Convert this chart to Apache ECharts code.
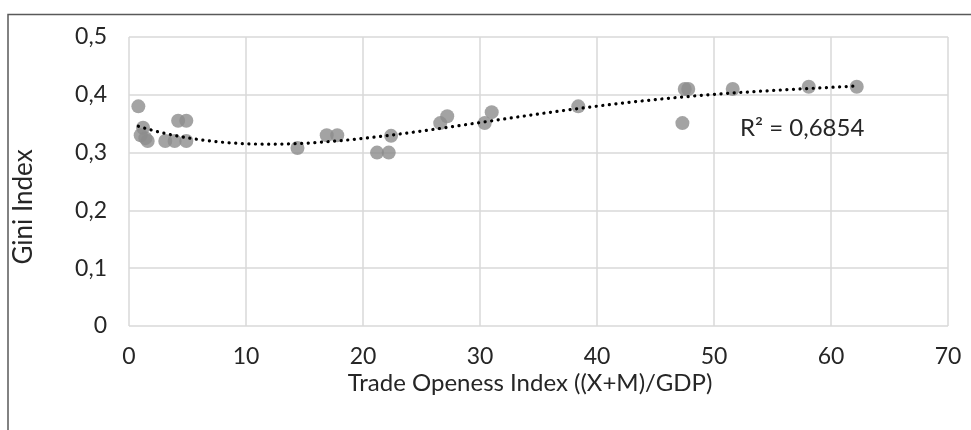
<!DOCTYPE html>
<html>
<head>
<meta charset="utf-8">
<script src="https://cdn.jsdelivr.net/npm/echarts@6/dist/echarts.min.js"></script>
<style>
  html, body { margin: 0; padding: 0; background: #fff; }
  #container { width: 971px; height: 430px; }
</style>
</head>
<body>
<div id="container"></div>
<script>
// trade openness (x) vs gini (y)
var tradeOpen = [0.8, 1.2, 1.0, 1.6, 1.4, 4.2, 4.9, 3.1, 3.9, 4.9, 14.4, 16.9, 17.8, 21.2, 22.2, 22.4, 26.6, 27.2, 30.4, 31.0, 38.4, 47.3, 47.5, 47.8, 51.6, 58.1, 62.2]
var gini = [0.38, 0.343, 0.33, 0.32, 0.325, 0.355, 0.355, 0.32, 0.32, 0.32, 0.308, 0.33, 0.33, 0.30, 0.30, 0.329, 0.351, 0.363, 0.351, 0.37, 0.38, 0.351, 0.41, 0.41, 0.41, 0.414, 0.414]
var xTicks = [0, 10, 20, 30, 40, 50, 60, 70]
var yTicks = [0, 0.1, 0.2, 0.3, 0.4, 0.5]
var r2Text = 'R² = 0,6854'
var xTitle = 'Trade Openess Index ((X+M)/GDP)'
var yTitle = 'Gini Index'

// polynomial trendline, least squares like excel
function polyFit(xs, ys, order){
	var n = order + 1
	var A = [], b = []
	for (var i = 0; i < n; i++) {
		A.push([])
		for (var j = 0; j < n; j++) {
			var s = 0
			for (var k = 0; k < xs.length; k++) s += Math.pow(xs[k], i + j)
			A[i].push(s)
		}
		var t = 0
		for (var k = 0; k < xs.length; k++) t += ys[k] * Math.pow(xs[k], i)
		b.push(t)
	}
	// gauss elimination
	for (var c = 0; c < n; c++) {
		var p = c
		for (var r = c + 1; r < n; r++) if (Math.abs(A[r][c]) > Math.abs(A[p][c])) p = r
		var tmp = A[c]; A[c] = A[p]; A[p] = tmp
		var tb = b[c]; b[c] = b[p]; b[p] = tb
		for (var r = c + 1; r < n; r++) {
			var f = A[r][c] / A[c][c]
			for (var j = c; j < n; j++) A[r][j] -= f * A[c][j]
			b[r] -= f * b[c]
		}
	}
	var coef = new Array(n)
	for (var i = n - 1; i >= 0; i--) {
		var s = b[i]
		for (var j = i + 1; j < n; j++) s -= A[i][j] * coef[j]
		coef[i] = s / A[i][i]
	}
	return coef
}

var coef = polyFit(tradeOpen, gini, 4)
var xMin = Math.min.apply(null, tradeOpen)
var xMax = Math.max.apply(null, tradeOpen)
var trend = []
for (var i = 0; i <= 120; i++) {
	var x = xMin + (xMax - xMin) * i / 120
	var y = 0
	for (var j = 0; j < coef.length; j++) y += coef[j] * Math.pow(x, j)
	trend.push([x, y])
}

var points = tradeOpen.map(function(x, i){ return [x, gini[i]] })

var dom = document.getElementById('container')
var myChart = echarts.init(dom)
var font = 'Lato, "Open Sans", sans-serif'
var option = {
	animation: false,
	backgroundColor: '#fff',
	textStyle: { fontFamily: font },
	graphic: [{
		type: 'rect',
		shape: { x: 8, y: 14.5, width: 980, height: 440 },
		style: { fill: null, stroke: '#595959', lineWidth: 1.5 },
		z: 100
	}, {
		type: 'text',
		left: 740,
		top: 116,
		style: { text: r2Text, font: '24px ' + font, fill: '#262626' },
		z: 100
	}, {
		// y axis title, sits a bit lower than the plot centre like the original
		type: 'text',
		x: 24,
		y: 207,
		rotation: Math.PI / 2,
		style: { text: yTitle, font: '26px ' + font, fill: '#262626', align: 'center', verticalAlign: 'middle' },
		z: 100
	}, {
		type: 'text',
		x: 530,
		y: 383,
		style: { text: xTitle, font: '24px ' + font, fill: '#262626', align: 'center', verticalAlign: 'middle' },
		z: 100
	}],
	grid: { left: 129, right: 23, top: 37, bottom: 104 },
	xAxis: {
		type: 'value',
		min: xTicks[0],
		max: xTicks[xTicks.length - 1],
		interval: 10,
		axisLine: { show: false },
		axisTick: { show: false },
		axisLabel: { fontSize: 23, color: '#262626', margin: 19, fontFamily: font },
		splitLine: { lineStyle: { color: '#d9d9d9', width: 1.5 } }
	},
	yAxis: {
		type: 'value',
		min: yTicks[0],
		max: yTicks[yTicks.length - 1],
		interval: 0.1,
		axisLine: { show: false },
		axisTick: { show: false },
		axisLabel: {
			fontSize: 23, color: '#262626', margin: 22, fontFamily: font,
			formatter: function(v){ return String(Math.round(v * 10) / 10).replace('.', ',') }
		},
		splitLine: { lineStyle: { color: '#d9d9d9', width: 1.5 } }
	},
	series: [{
		type: 'scatter',
		data: points,
		symbolSize: 14,
		itemStyle: { color: '#8c8c8c' },
		z: 2
	}, {
		type: 'line',
		data: trend,
		showSymbol: false,
		smooth: false,
		lineStyle: { color: '#000', width: 3.2, type: [0.1, 6.5], cap: 'round' },
		z: 3
	}]
}
myChart.setOption(option)
</script>
</body>
</html>
